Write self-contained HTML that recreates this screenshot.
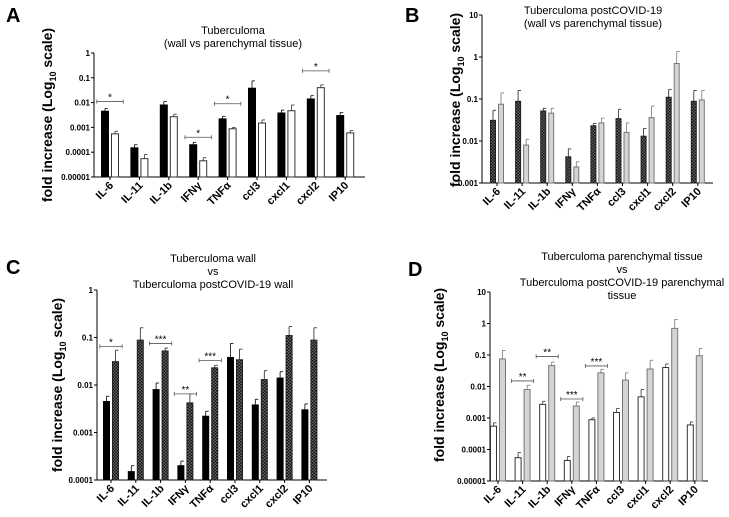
<!DOCTYPE html>
<html><head><meta charset="utf-8"><style>
html,body{margin:0;padding:0;background:#fff;}
svg{display:block;font-family:"Liberation Sans",Arial,sans-serif;}
</style></head><body>
<svg id="fig" width="729" height="517" viewBox="0 0 729 517" xmlns="http://www.w3.org/2000/svg">
<defs>
<pattern id="hatch" width="3" height="3" patternUnits="userSpaceOnUse">
<rect width="3" height="3" fill="#666"/><rect width="1.5" height="1.5" fill="#111"/><rect x="1.5" y="1.5" width="1.5" height="1.5" fill="#111"/>
</pattern>
</defs>
<g id="root"></g>
</svg>
<script>
const categories = ["IL-6","IL-11","IL-1b","IFNγ","TNFα","ccl3","cxcl1","cxcl2","IP10"];
const wallValues = [0.0045,0.00015,0.008,0.0002,0.0022,0.038,0.0038,0.014,0.003];
const wallErr = [0.0058,0.0002,0.011,0.00025,0.0028,0.075,0.005,0.019,0.004];
const parValues = [0.00055,0.000055,0.0027,0.000045,0.00088,0.0015,0.0047,0.04,0.0006];
const parErr = [0.0007,0.00008,0.0034,0.00006,0.001,0.002,0.008,0.052,0.00075];
const covWallValues = [0.031,0.088,0.052,0.0042,0.023,0.034,0.013,0.11,0.088];
const covWallErr = [0.054,0.16,0.06,0.0065,0.026,0.057,0.02,0.17,0.16];
const covParValues = [0.075,0.008,0.046,0.0024,0.027,0.016,0.036,0.7,0.095];
const covParErr = [0.14,0.011,0.06,0.0032,0.035,0.027,0.068,1.35,0.16];
const ticksA = ["1","0.1","0.01","0.001","0.0001","0.00001"];
const ticksB = ["10","1","0.1","0.01","0.001"];
const ticksC = ["1","0.1","0.01","0.001","0.0001"];
const ticksD = ["10","1","0.1","0.01","0.001","0.0001","0.00001"];
// significance: [category index, bracket value, label]
const sigA = [[0,0.011,"*"],[3,0.0004,"*"],[4,0.009,"*"],[7,0.19,"*"]];
const sigC = [[0,0.065,"*"],[2,0.075,"***"],[3,0.0065,"**"],[4,0.033,"***"]];
const sigD = [[1,0.015,"**"],[2,0.09,"**"],[3,0.004,"***"],[4,0.045,"***"]];

const NS="http://www.w3.org/2000/svg";
const root=document.getElementById('root');
function mk(tag,attrs,parent,text){const e=document.createElementNS(NS,tag);for(const k in attrs)e.setAttribute(k,attrs[k]);if(text!==undefined)e.textContent=text;(parent||root).appendChild(e);return e;}

const styles={
 wall:{fill:"#000",stroke:"#000"},
 par:{fill:"#fff",stroke:"#333"},
 cwall:{fill:"url(#hatch)",stroke:"#222"},
 cpar:{fill:"#d4d4d4",stroke:"#777"}
};

function panel(p){
 const g=mk('g',{});
 
 
 const decades=p.ticks.length-1;
 const maxV=parseFloat(p.ticks[0]);
 const y=v=>p.top+(Math.log10(maxV)-Math.log10(v))*(p.bottom-p.top)/decades;
 const x=i=>p.c0+i*p.step;
 const L=mk('text',{x:p.lx,y:p.ly,'font-size':20,'font-weight':'bold'},g,p.id);
 
 
 p.title.forEach((t,k)=>{const e=mk('text',{x:p.tx,y:p.ty+k*13,'font-size':11,'text-anchor':'middle'},g,t);
  
  });
 const ax=mk('line',{x1:p.ax,y1:p.top,x2:p.ax,y2:p.bottom,stroke:'#000','stroke-width':1},g);
 
 
 const xa=mk('line',{x1:p.ax,y1:p.bottom,x2:p.xend,y2:p.bottom,stroke:'#000','stroke-width':1},g);
 
 
 p.ticks.forEach(t=>{const yy=y(parseFloat(t));
  mk('line',{x1:p.ax-3,y1:yy,x2:p.ax,y2:yy,stroke:'#000'},g);
  const e=mk('text',{x:p.ax-4,y:yy+3,'font-size':8,'font-weight':'bold','text-anchor':'end'},g,t);
  
  });
 const yt=mk('text',{transform:`translate(${p.ytx},${p.yty}) rotate(-90)`,'font-size':14,'font-weight':'bold','text-anchor':'middle'},g);
 
 
 mk('tspan',{},yt,'fold increase (Log');
 mk('tspan',{'font-size':9,dy:4},yt,'10');
 mk('tspan',{dy:-4},yt,' scale)');
 categories.forEach((c,i)=>{
  const cx=x(i);
  mk('line',{x1:cx,y1:p.bottom,x2:cx,y2:p.bottom+3,stroke:'#000'},g);
  p.series.forEach((s,j)=>{
   const bx=cx+(j===0?-p.bw-1:1);
   const v=s.vals[i],e=s.err[i];
   const ty=y(v);
   mk('line',{x1:bx+p.bw/2,y1:y(e),x2:bx+p.bw/2,y2:ty,stroke:styles[s.st].stroke,'stroke-width':0.8},g);
   mk('line',{x1:bx+p.bw/2,y1:y(e),x2:bx+p.bw/2+3,y2:y(e),stroke:styles[s.st].stroke,'stroke-width':0.8},g);
   const r=mk('rect',{x:bx+0.5,y:ty,width:p.bw-1,height:p.bottom-ty,fill:styles[s.st].fill,stroke:styles[s.st].stroke,'stroke-width':1},g);
   
   
  });
  const tl=mk('text',{transform:`translate(${cx+4},${p.bottom+9}) rotate(-45)`,'font-size':11,'font-weight':'bold','text-anchor':'end'},g,c);
  
  
 });
 p.sig.forEach(s=>{const cx=x(s[0]),yy=y(s[1]),hw=p.step*0.45;
  mk('line',{x1:cx-hw,y1:yy,x2:cx+hw,y2:yy,stroke:'#555','stroke-width':0.8},g);
  mk('line',{x1:cx-hw,y1:yy-2,x2:cx-hw,y2:yy+2,stroke:'#555','stroke-width':0.8},g);
  mk('line',{x1:cx+hw,y1:yy-2,x2:cx+hw,y2:yy+2,stroke:'#555','stroke-width':0.8},g);
  const t=mk('text',{x:cx,y:yy-1,'font-size':10,'text-anchor':'middle'},g,s[2]);
  
  });
}

panel({id:"A",lx:6,ly:22,tx:233,ty:34,title:["Tuberculoma","(wall vs parenchymal tissue)"],
 ax:94,xend:365,top:53,bottom:177,ticks:ticksA,c0:110,step:29.4,bw:8,ytx:52,yty:115,
 series:[{vals:wallValues,err:wallErr,st:'wall'},{vals:parValues,err:parErr,st:'par'}],sig:sigA});
panel({id:"B",lx:405,ly:22,tx:593,ty:14,title:["Tuberculoma postCOVID-19","(wall vs parenchymal tissue)"],
 ax:482,xend:713,top:15,bottom:183,ticks:ticksB,c0:497,step:25.1,bw:6,ytx:460,yty:100,
 series:[{vals:covWallValues,err:covWallErr,st:'cwall'},{vals:covParValues,err:covParErr,st:'cpar'}],sig:[]});
panel({id:"C",lx:6,ly:274,tx:213,ty:262,title:["Tuberculoma wall","vs","Tuberculoma postCOVID-19 wall"],
 ax:97,xend:327,top:290,bottom:480,ticks:ticksC,c0:111,step:24.8,bw:7,ytx:62,yty:385,
 series:[{vals:wallValues,err:wallErr,st:'wall'},{vals:covWallValues,err:covWallErr,st:'cwall'}],sig:sigC});
panel({id:"D",lx:408,ly:276,tx:622,ty:260,title:["Tuberculoma parenchymal tissue","vs","Tuberculoma postCOVID-19 parenchymal","tissue"],
 ax:490,xend:708,top:292,bottom:481,ticks:ticksD,c0:498,step:24.6,bw:7,ytx:444,yty:375,
 series:[{vals:parValues,err:parErr,st:'par'},{vals:covParValues,err:covParErr,st:'cpar'}],sig:sigD});
</script>
</body></html>
